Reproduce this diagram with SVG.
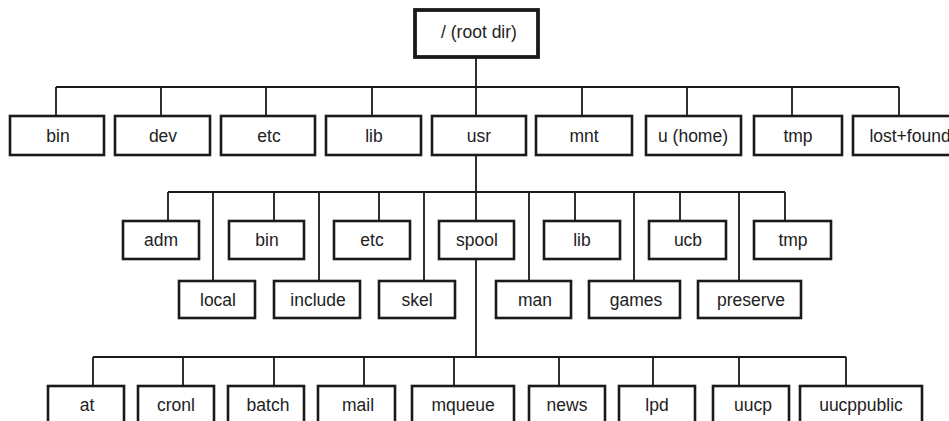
<svg xmlns="http://www.w3.org/2000/svg" width="949" height="421" viewBox="0 0 949 421">
<style>
.b{fill:#fff;stroke:#1a1a1a;stroke-width:2.6}
.r{fill:#fff;stroke:#1a1a1a;stroke-width:3.8}
.c{fill:none;stroke:#1a1a1a;stroke-width:1.8}
text{font-family:"Liberation Sans",Arial,sans-serif;font-size:17.5px;fill:#222;text-anchor:middle}
</style>
<rect width="949" height="421" fill="#fff"/>
<g id="connectors">
<path class="c" d="M476 57V116M56 87H899M56 87V116M161 87V116M266 87V116M372 87V116M582 87V116M687 87V116M792 87V116M899 87V116"/>
<path class="c" d="M476 155V221M168 192H785M168 192V221M274 192V221M379 192V221M575 192V221M680 192V221M785 192V221M213 192V281M319 192V281M424 192V281M529 192V281M634 192V281M739 192V281"/>
<path class="c" d="M476 259V357M93 357H846M93 357V386M183 357V386M274 357V386M364 357V386M454 357V386M559 357V386M653 357V386M739 357V386M846 357V386"/>
</g>
<g id="root"><rect class="r" x="415" y="10" width="123" height="47"/><text x="479" y="38">/ (root dir)</text></g>
<g id="bin"><rect class="b" x="10" y="116" width="94" height="39"/><text x="58" y="142">bin</text></g>
<g id="dev"><rect class="b" x="115" y="116" width="95" height="39"/><text x="163" y="142">dev</text></g>
<g id="etc"><rect class="b" x="221" y="116" width="94" height="39"/><text x="269" y="142">etc</text></g>
<g id="lib"><rect class="b" x="326" y="116" width="95" height="39"/><text x="374" y="142">lib</text></g>
<g id="usr"><rect class="b" x="432" y="116" width="94" height="39"/><text x="479" y="142">usr</text></g>
<g id="mnt"><rect class="b" x="536" y="116" width="96" height="39"/><text x="584" y="142">mnt</text></g>
<g id="u_home"><rect class="b" x="646" y="116" width="95" height="39"/><text x="693" y="142">u (home)</text></g>
<g id="tmp"><rect class="b" x="754" y="116" width="88" height="39"/><text x="798" y="142">tmp</text></g>
<g id="lost_found"><rect class="b" x="853" y="116" width="115" height="39"/><text x="910" y="142">lost+found</text></g>
<g id="usr_adm"><rect class="b" x="123" y="221" width="76" height="38"/><text x="161" y="246">adm</text></g>
<g id="usr_bin"><rect class="b" x="229" y="221" width="75" height="38"/><text x="267" y="246">bin</text></g>
<g id="usr_etc"><rect class="b" x="334" y="221" width="76" height="38"/><text x="372" y="246">etc</text></g>
<g id="usr_spool"><rect class="b" x="439" y="221" width="75" height="38"/><text x="477" y="246">spool</text></g>
<g id="usr_lib"><rect class="b" x="544" y="221" width="76" height="38"/><text x="582" y="246">lib</text></g>
<g id="usr_ucb"><rect class="b" x="649" y="221" width="77" height="38"/><text x="688" y="246">ucb</text></g>
<g id="usr_tmp"><rect class="b" x="754" y="221" width="77" height="38"/><text x="793" y="246">tmp</text></g>
<g id="usr_local"><rect class="b" x="179" y="281" width="76" height="37"/><text x="218" y="306">local</text></g>
<g id="usr_include"><rect class="b" x="274" y="281" width="86" height="37"/><text x="318" y="306">include</text></g>
<g id="usr_skel"><rect class="b" x="379" y="281" width="76" height="37"/><text x="417" y="306">skel</text></g>
<g id="usr_man"><rect class="b" x="496" y="281" width="75" height="37"/><text x="535" y="306">man</text></g>
<g id="usr_games"><rect class="b" x="589" y="281" width="91" height="37"/><text x="636" y="306">games</text></g>
<g id="usr_preserve"><rect class="b" x="698" y="281" width="103" height="37"/><text x="751" y="306">preserve</text></g>
<g id="spool_at"><rect class="b" x="48" y="386" width="76" height="45"/><text x="87" y="411">at</text></g>
<g id="spool_cronl"><rect class="b" x="138" y="386" width="76" height="45"/><text x="176" y="411">cronl</text></g>
<g id="spool_batch"><rect class="b" x="228" y="386" width="76" height="45"/><text x="268" y="411">batch</text></g>
<g id="spool_mail"><rect class="b" x="318" y="386" width="77" height="45"/><text x="358" y="411">mail</text></g>
<g id="spool_mqueue"><rect class="b" x="412" y="386" width="102" height="45"/><text x="463" y="411">mqueue</text></g>
<g id="spool_news"><rect class="b" x="529" y="386" width="76" height="45"/><text x="567" y="411">news</text></g>
<g id="spool_lpd"><rect class="b" x="619" y="386" width="76" height="45"/><text x="657" y="411">lpd</text></g>
<g id="spool_uucp"><rect class="b" x="713" y="386" width="76" height="45"/><text x="753" y="411">uucp</text></g>
<g id="spool_uucppublic"><rect class="b" x="800" y="386" width="122" height="45"/><text x="861" y="411">uucppublic</text></g>
</svg>
